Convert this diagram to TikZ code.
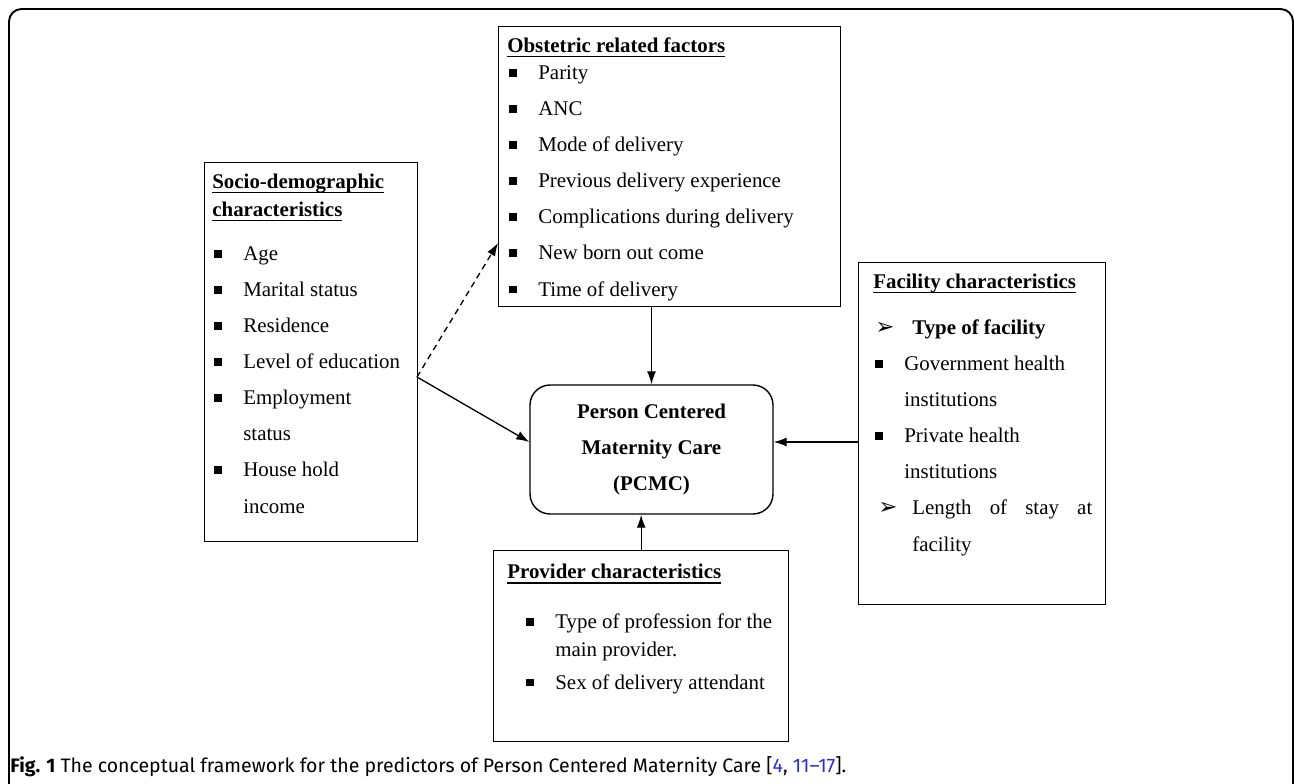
\documentclass[tikz,border=0pt]{standalone}
\usepackage{fontspec}
\setmainfont{Liberation Serif}
\newfontfamily\capfont{Fira Sans}
\newfontfamily\dvfont{DejaVu Sans}
\usetikzlibrary{positioning,arrows.meta}
\tikzset{>={Latex[length=2.6mm,width=1.8mm]}}
\definecolor{refblue}{RGB}{40,40,230}
\tikzset{
  fbox/.style={draw, line width=0.8pt, inner sep=0pt, anchor=north west},
  ftxt/.style={align=left, inner sep=0pt, anchor=base west, font=\fontsize{11.9}{20.5}\selectfont},
  pbox/.style={draw, line width=0.8pt, rounded corners=0.4cm, inner sep=0pt, align=center,
    minimum width=4.86cm, minimum height=2.58cm, font=\bfseries\fontsize{11.9}{20.5}\selectfont},
  arr/.style={->, line width=0.75pt}
}
\newlength{\ttlw}
\newcommand{\bul}{\makebox[0.62cm][l]{\hspace{0.04cm}\rule[0.06cm]{0.15cm}{0.15cm}}}
\newcommand{\pnt}[1]{\makebox[0.78cm][l]{\hspace{#1}{\dvfont\fontsize{13}{13}\selectfont\symbol{"27A2}}}}
\newcommand{\ttl}[1]{\settowidth{\ttlw}{\textbf{#1}}\textbf{#1}\hspace{-\ttlw}\rule[-2.6pt]{\ttlw}{1pt}}

\begin{document}
\begin{tikzpicture}[x=0.02cm,y=-0.02cm]
\useasboundingbox (0,0) rectangle (1295,784);

% outer frame
\draw[line width=1.1pt, rounded corners=0.25cm] (9,784) -- (9,9) -- (1293,9) -- (1293,784);

% boxes
\node[fbox, minimum width=4.26cm, minimum height=7.58cm] (sd) at (204,162) {};
\node[fbox, minimum width=6.84cm, minimum height=5.6cm] (obs) at (498,26) {};
\node[fbox, minimum width=4.94cm, minimum height=6.84cm] (fac) at (858,262) {};
\node[fbox, minimum width=5.9cm, minimum height=3.82cm] (prov) at (493,550) {};
\node[pbox] (pcmc) at (651.5,449.5) {Person Centered\\Maternity Care\\(PCMC)};

% box texts (placed by the baseline of the last line)
\node[ftxt] (sdtxt) at (212,513) {\ttl{Socio-demographic}\\[-0.16cm]
  \ttl{characteristics}\\[0.16cm]
  \bul Age\\
  \bul Marital status\\
  \bul Residence\\
  \bul Level of education\\
  \bul Employment\\
  \hspace*{0.62cm}status\\
  \bul House hold\\
  \hspace*{0.62cm}income};

\node[ftxt] (obstxt) at (507,296) {\ttl{Obstetric related factors}\\[-0.18cm]
  \bul Parity\\
  \bul ANC\\
  \bul Mode of delivery\\
  \bul Previous delivery experience\\
  \bul Complications during delivery\\
  \bul New born out come\\
  \bul Time of delivery};

\node[ftxt] (factxt) at (873,551) {\ttl{Facility characteristics}\\[0.2cm]
  \pnt{0.04cm}\textbf{Type of facility}\\
  \bul Government health\\
  \hspace*{0.62cm}institutions\\
  \bul Private health\\
  \hspace*{0.62cm}institutions\\
  \pnt{0.1cm}\makebox[3.6cm][s]{Length\hfill of\hfill stay\hfill at}\\
  \hspace*{0.78cm}facility};

\node[ftxt] (provtxt) at (507,689) {\ttl{Provider characteristics}\\[0.28cm]
  \hspace*{0.34cm}\bul Type of profession for the\\[-0.16cm]
  \hspace*{0.96cm}main provider.\\[-0.08cm]
  \hspace*{0.34cm}\bul Sex of delivery attendant};

% connectors
\coordinate (sdout) at (417,377);
\coordinate (mid) at (651,442);
\draw[arr] (pcmc.north |- obs.south) -- (pcmc.north);
\draw[arr] (prov.north) -- (prov.north |- pcmc.south);
\draw[arr] (fac.west |- mid) -- (pcmc.east |- mid);
\draw[arr] (sdout) -- (pcmc.west |- mid);
\draw[arr, dash pattern=on 1.2mm off 0.9mm] (sdout) -- (obs.west |- {0,243});

% caption
\node[anchor=base west, inner sep=0pt, font=\capfont\fontsize{11.1}{13}\selectfont] (cap) at (10,772)
  {\textbf{Fig. 1} The conceptual framework for the predictors of Person Centered Maternity Care [\textcolor{refblue}{4}, \textcolor{refblue}{11–17}].};
\end{tikzpicture}
\end{document}
